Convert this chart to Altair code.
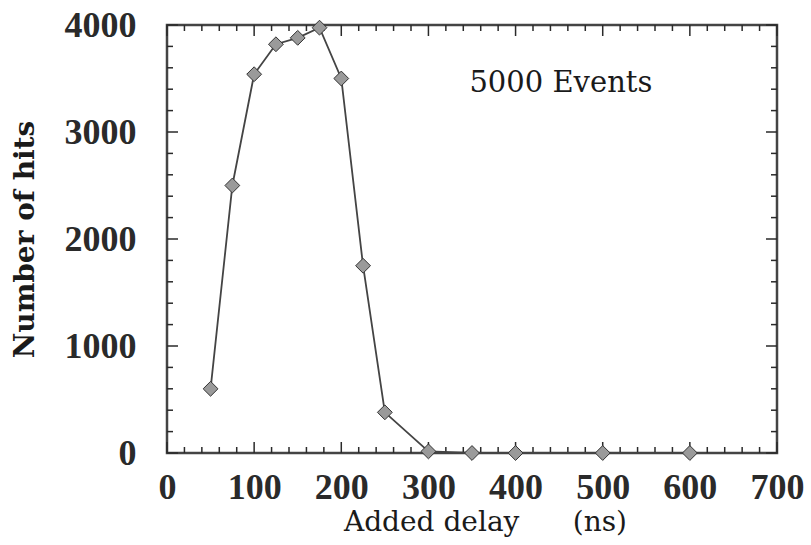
import altair as alt
import pandas as pd

# data
delay_ns = [50, 75, 100, 125, 150, 175, 200, 225, 250, 300, 350, 400, 500, 600]
hits = [600, 2500, 3540, 3820, 3880, 3975, 3500, 1750, 380, 15, 0, 0, 0, 0]

x_ticks = [0, 100, 200, 300, 400, 500, 600, 700]
y_ticks = [0, 1000, 2000, 3000, 4000]
x_minor = [v for v in range(0, 701, 20) if v % 100 != 0]
y_minor = [v for v in range(0, 4001, 200) if v % 1000 != 0]

annotation = "5000 Events"
x_title = "Added delay\u00a0\u00a0\u00a0\u00a0\u00a0\u00a0(ns)"
y_title = "Number of hits"

W, H = 610, 428
INK = "#2a2a2a"

df = pd.DataFrame({"delay": delay_ns, "hits": hits})
xs = alt.Scale(domain=[0, 700], nice=False, zero=False)
ys = alt.Scale(domain=[0, 4000], nice=False, zero=False)

x_axis = alt.Axis(values=x_ticks, ticks=False, grid=False, domain=False, format="d",
                  labelFont="Liberation Serif", labelFontWeight="bold",
                  labelFontSize=36, labelColor=INK, labelPadding=17,
                  labelFlush=False, labelOverlap=False,
                  title=x_title, titleFont="DejaVu Serif", titleFontSize=28,
                  titleFontWeight="normal", titleColor="#1a1a1a",
                  titleX=318, titleY=69, titleBaseline="middle", titleAlign="center")
y_axis = alt.Axis(values=y_ticks, ticks=False, grid=False, domain=False, format="d",
                  labelFont="Liberation Serif", labelFontWeight="bold",
                  labelFontSize=36, labelColor=INK, labelPadding=31,
                  labelFlush=False, labelOverlap=False, labelBaseline="middle",
                  title=y_title, titleFont="DejaVu Serif", titleFontSize=28,
                  titleFontWeight="bold", titleColor="#1a1a1a", titleAngle=270,
                  titleX=-142, titleY=214, titleBaseline="middle", titleAlign="center")

line = alt.Chart(df).mark_line(color="#444444", strokeWidth=1.8).encode(
    x=alt.X("delay:Q", scale=xs, axis=x_axis),
    y=alt.Y("hits:Q", scale=ys, axis=y_axis),
)
pts = alt.Chart(df).mark_point(shape="diamond", size=220, filled=True,
                                fill="#9a9a9a", stroke="#333333", strokeWidth=1,
                                opacity=1).encode(
    x=alt.X("delay:Q", scale=xs),
    y=alt.Y("hits:Q", scale=ys),
)

def xtick_layer(vals, length):
    d = pd.DataFrame({"v": vals})
    bot = alt.Chart(d).mark_rule(color=INK, strokeWidth=1.5).encode(
        x=alt.X("v:Q", scale=xs), y=alt.value(H), y2=alt.value(H - length))
    top = alt.Chart(d).mark_rule(color=INK, strokeWidth=1.5).encode(
        x=alt.X("v:Q", scale=xs), y=alt.value(0), y2=alt.value(length))
    return bot + top

def ytick_layer(vals, length):
    d = pd.DataFrame({"v": vals})
    left = alt.Chart(d).mark_rule(color=INK, strokeWidth=1.5).encode(
        y=alt.Y("v:Q", scale=ys), x=alt.value(0), x2=alt.value(length))
    right = alt.Chart(d).mark_rule(color=INK, strokeWidth=1.5).encode(
        y=alt.Y("v:Q", scale=ys), x=alt.value(W), x2=alt.value(W - length))
    return left + right

ann_df = pd.DataFrame({"x": [452], "y": [3460], "t": [annotation]})
ann = alt.Chart(ann_df).mark_text(font="DejaVu Serif", fontSize=29, color="#1a1a1a",
                                   align="center", baseline="middle").encode(
    x=alt.X("x:Q", scale=xs), y=alt.Y("y:Q", scale=ys), text="t:N")

chart = alt.layer(
    xtick_layer(x_minor, 6), xtick_layer(x_ticks, 11),
    ytick_layer(y_minor, 6), ytick_layer(y_ticks, 11),
    line, pts, ann,
).properties(
    width=W, height=H,
    autosize=alt.AutoSizeParams(type="none"),
    padding={"left": 167, "top": 25, "right": 34, "bottom": 92},
    background="white",
).configure_view(stroke="#444444", strokeWidth=2.5)

chart.save("out.html", embed_options={"renderer": "svg", "actions": False})
